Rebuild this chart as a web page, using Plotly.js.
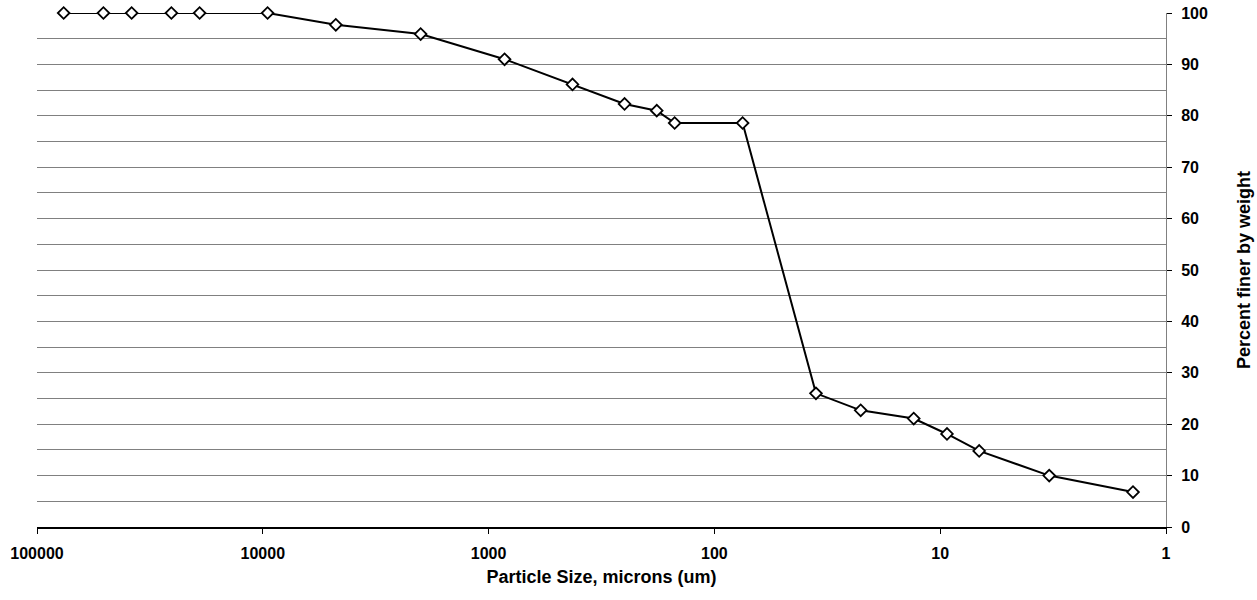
<!DOCTYPE html>
<html>
<head>
<meta charset="utf-8">
<script src="https://cdn.plot.ly/plotly-3.0.1.min.js"></script>
<style>html,body{margin:0;padding:0;background:#fff;}#chart{width:1257px;height:600px;}</style>
</head>
<body>
<div id="chart"></div>
<script>
// Particle size (microns) and percent finer by weight
var particleSize = [76200, 50800, 38100, 25400, 19050, 9525, 4750, 2000, 850, 425, 250, 180, 150, 75, 35.5, 22.5, 13.1, 9.33, 6.72, 3.29, 1.40];
var percentFiner = [100, 100, 100, 100, 100, 100, 97.7, 95.9, 91.0, 86.1, 82.3, 81.0, 78.6, 78.6, 26.0, 22.7, 21.1, 18.1, 14.8, 10.0, 6.8];
var xTickVals = [100000, 10000, 1000, 100, 10, 1];
var xTickText = ["100000", "10000", "1000", "100", "10", "1"];
var yTickVals = [0, 10, 20, 30, 40, 50, 60, 70, 80, 90, 100];

var fam = "Liberation Sans, Arial, sans-serif";
var tickFont = {family: fam, size: 16, color: "#000", weight: "bold"};
var titleFont = {family: fam, size: 18, color: "#000", weight: "bold"};

var trace = {
  x: particleSize,
  y: percentFiner,
  type: "scatter",
  mode: "lines+markers",
  cliponaxis: false,
  line: {color: "#000", width: 2},
  marker: {symbol: "diamond", size: 9, color: "#fff", line: {color: "#000", width: 1.8}},
  hoverinfo: "x+y",
  showlegend: false
};

var layout = {
  width: 1257, height: 600,
  margin: {l: 37, r: 91, t: 13, b: 73},
  paper_bgcolor: "#fff", plot_bgcolor: "#fff",
  font: {family: fam, size: 15, color: "#000"},
  xaxis: {
    type: "log", autorange: false, range: [5, 0],
    tickvals: xTickVals, ticktext: xTickText,
    ticks: "outside", ticklen: 5, tickcolor: "#000", tickwidth: 1,
    showgrid: false, zeroline: false,
    showline: true, linecolor: "#000", linewidth: 1.5,
    tickfont: tickFont,
    ticklabelstandoff: 6,
    title: {text: "Particle Size, microns (um)", font: titleFont, standoff: 9}
  },
  xaxis2: {
    type: "log", autorange: false, range: [5, 0], overlaying: "x", anchor: "y",
    tickvals: xTickVals, showticklabels: false,
    ticks: "inside", ticklen: 5, tickcolor: "#000", tickwidth: 1,
    showgrid: false, zeroline: false, showline: false
  },
  yaxis: {
    side: "right", autorange: false, range: [0, 100],
    tickvals: yTickVals,
    ticks: "outside", ticklen: 5, tickcolor: "#000", tickwidth: 1,
    showgrid: true, gridcolor: "#808080", gridwidth: 1,
    minor: {dtick: 5, showgrid: true, gridcolor: "#808080", gridwidth: 1, ticks: ""},
    zeroline: false,
    showline: true, linecolor: "#808080", linewidth: 1,
    tickfont: tickFont,
    ticklabelstandoff: 6,
    title: {text: "Percent finer by weight", font: titleFont, standoff: 30}
  },
  yaxis2: {
    side: "right", autorange: false, range: [0, 100], overlaying: "y", anchor: "x",
    tickvals: yTickVals, showticklabels: false,
    ticks: "inside", ticklen: 5, tickcolor: "#000", tickwidth: 1,
    showgrid: false, zeroline: false, showline: false
  }
};

Plotly.newPlot("chart", [trace], layout, {displayModeBar: false, staticPlot: true});
</script>
</body>
</html>
